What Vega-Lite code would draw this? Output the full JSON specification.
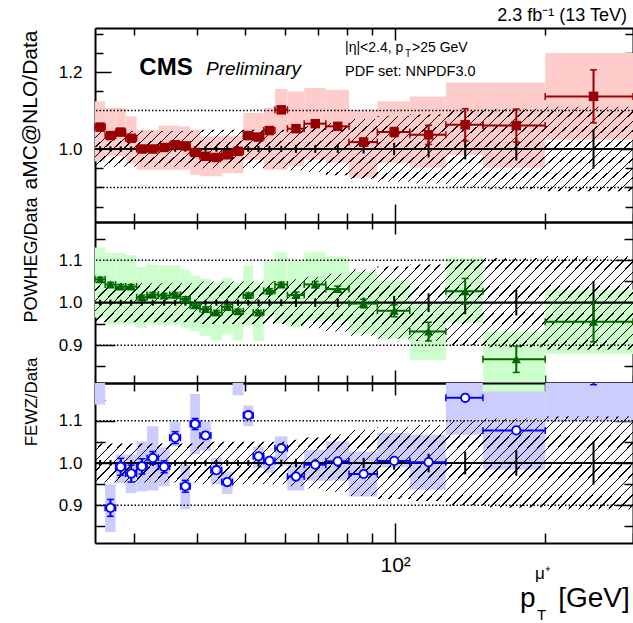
{
"$schema":"https://vega.github.io/schema/vega-lite/v6.json",
"autosize":{"type":"none"},
"padding":{"left":95,"top":28,"right":538,"bottom":595},
"background":"white",
"spacing":0,
"bounds":"flush",
"config":{
 "view":{"stroke":null},
 "axis":{"domain":true,"domainColor":"black","domainWidth":2,"tickColor":"black","tickWidth":1.5,"labelFont":"Liberation Sans","labelFontSize":17,"labelColor":"black","titleFont":"Liberation Sans","titleFontWeight":"normal","titleColor":"black","grid":false,"zindex":1,"labelFlush":false,"labelOverlap":false,"labelBound":false},
 "text":{"font":"Liberation Sans","color":"black"},
 "area":{"stroke":null,"fill":{"gradient":"linear","x1":0,"y1":0,"x2":1.1355,"y2":0.19,"stops":[
{"offset":0.0040,"color":"transparent"},{"offset":0.0040,"color":"black"},{"offset":0.0062,"color":"black"},{"offset":0.0062,"color":"transparent"},
{"offset":0.0199,"color":"transparent"},{"offset":0.0199,"color":"black"},{"offset":0.0221,"color":"black"},{"offset":0.0221,"color":"transparent"},
{"offset":0.0358,"color":"transparent"},{"offset":0.0358,"color":"black"},{"offset":0.0380,"color":"black"},{"offset":0.0380,"color":"transparent"},
{"offset":0.0518,"color":"transparent"},{"offset":0.0518,"color":"black"},{"offset":0.0540,"color":"black"},{"offset":0.0540,"color":"transparent"},
{"offset":0.0677,"color":"transparent"},{"offset":0.0677,"color":"black"},{"offset":0.0699,"color":"black"},{"offset":0.0699,"color":"transparent"},
{"offset":0.0836,"color":"transparent"},{"offset":0.0836,"color":"black"},{"offset":0.0858,"color":"black"},{"offset":0.0858,"color":"transparent"},
{"offset":0.0995,"color":"transparent"},{"offset":0.0995,"color":"black"},{"offset":0.1017,"color":"black"},{"offset":0.1017,"color":"transparent"},
{"offset":0.1155,"color":"transparent"},{"offset":0.1155,"color":"black"},{"offset":0.1177,"color":"black"},{"offset":0.1177,"color":"transparent"},
{"offset":0.1314,"color":"transparent"},{"offset":0.1314,"color":"black"},{"offset":0.1336,"color":"black"},{"offset":0.1336,"color":"transparent"},
{"offset":0.1473,"color":"transparent"},{"offset":0.1473,"color":"black"},{"offset":0.1495,"color":"black"},{"offset":0.1495,"color":"transparent"},
{"offset":0.1632,"color":"transparent"},{"offset":0.1632,"color":"black"},{"offset":0.1654,"color":"black"},{"offset":0.1654,"color":"transparent"},
{"offset":0.1792,"color":"transparent"},{"offset":0.1792,"color":"black"},{"offset":0.1814,"color":"black"},{"offset":0.1814,"color":"transparent"},
{"offset":0.1951,"color":"transparent"},{"offset":0.1951,"color":"black"},{"offset":0.1973,"color":"black"},{"offset":0.1973,"color":"transparent"},
{"offset":0.2110,"color":"transparent"},{"offset":0.2110,"color":"black"},{"offset":0.2132,"color":"black"},{"offset":0.2132,"color":"transparent"},
{"offset":0.2269,"color":"transparent"},{"offset":0.2269,"color":"black"},{"offset":0.2291,"color":"black"},{"offset":0.2291,"color":"transparent"},
{"offset":0.2429,"color":"transparent"},{"offset":0.2429,"color":"black"},{"offset":0.2451,"color":"black"},{"offset":0.2451,"color":"transparent"},
{"offset":0.2588,"color":"transparent"},{"offset":0.2588,"color":"black"},{"offset":0.2610,"color":"black"},{"offset":0.2610,"color":"transparent"},
{"offset":0.2747,"color":"transparent"},{"offset":0.2747,"color":"black"},{"offset":0.2769,"color":"black"},{"offset":0.2769,"color":"transparent"},
{"offset":0.2906,"color":"transparent"},{"offset":0.2906,"color":"black"},{"offset":0.2928,"color":"black"},{"offset":0.2928,"color":"transparent"},
{"offset":0.3066,"color":"transparent"},{"offset":0.3066,"color":"black"},{"offset":0.3088,"color":"black"},{"offset":0.3088,"color":"transparent"},
{"offset":0.3225,"color":"transparent"},{"offset":0.3225,"color":"black"},{"offset":0.3247,"color":"black"},{"offset":0.3247,"color":"transparent"},
{"offset":0.3384,"color":"transparent"},{"offset":0.3384,"color":"black"},{"offset":0.3406,"color":"black"},{"offset":0.3406,"color":"transparent"},
{"offset":0.3543,"color":"transparent"},{"offset":0.3543,"color":"black"},{"offset":0.3565,"color":"black"},{"offset":0.3565,"color":"transparent"},
{"offset":0.3703,"color":"transparent"},{"offset":0.3703,"color":"black"},{"offset":0.3725,"color":"black"},{"offset":0.3725,"color":"transparent"},
{"offset":0.3862,"color":"transparent"},{"offset":0.3862,"color":"black"},{"offset":0.3884,"color":"black"},{"offset":0.3884,"color":"transparent"},
{"offset":0.4021,"color":"transparent"},{"offset":0.4021,"color":"black"},{"offset":0.4043,"color":"black"},{"offset":0.4043,"color":"transparent"},
{"offset":0.4180,"color":"transparent"},{"offset":0.4180,"color":"black"},{"offset":0.4202,"color":"black"},{"offset":0.4202,"color":"transparent"},
{"offset":0.4339,"color":"transparent"},{"offset":0.4339,"color":"black"},{"offset":0.4361,"color":"black"},{"offset":0.4361,"color":"transparent"},
{"offset":0.4499,"color":"transparent"},{"offset":0.4499,"color":"black"},{"offset":0.4521,"color":"black"},{"offset":0.4521,"color":"transparent"},
{"offset":0.4658,"color":"transparent"},{"offset":0.4658,"color":"black"},{"offset":0.4680,"color":"black"},{"offset":0.4680,"color":"transparent"},
{"offset":0.4817,"color":"transparent"},{"offset":0.4817,"color":"black"},{"offset":0.4839,"color":"black"},{"offset":0.4839,"color":"transparent"},
{"offset":0.4976,"color":"transparent"},{"offset":0.4976,"color":"black"},{"offset":0.4998,"color":"black"},{"offset":0.4998,"color":"transparent"},
{"offset":0.5136,"color":"transparent"},{"offset":0.5136,"color":"black"},{"offset":0.5158,"color":"black"},{"offset":0.5158,"color":"transparent"},
{"offset":0.5295,"color":"transparent"},{"offset":0.5295,"color":"black"},{"offset":0.5317,"color":"black"},{"offset":0.5317,"color":"transparent"},
{"offset":0.5454,"color":"transparent"},{"offset":0.5454,"color":"black"},{"offset":0.5476,"color":"black"},{"offset":0.5476,"color":"transparent"},
{"offset":0.5613,"color":"transparent"},{"offset":0.5613,"color":"black"},{"offset":0.5635,"color":"black"},{"offset":0.5635,"color":"transparent"},
{"offset":0.5773,"color":"transparent"},{"offset":0.5773,"color":"black"},{"offset":0.5795,"color":"black"},{"offset":0.5795,"color":"transparent"},
{"offset":0.5932,"color":"transparent"},{"offset":0.5932,"color":"black"},{"offset":0.5954,"color":"black"},{"offset":0.5954,"color":"transparent"},
{"offset":0.6091,"color":"transparent"},{"offset":0.6091,"color":"black"},{"offset":0.6113,"color":"black"},{"offset":0.6113,"color":"transparent"},
{"offset":0.6250,"color":"transparent"},{"offset":0.6250,"color":"black"},{"offset":0.6272,"color":"black"},{"offset":0.6272,"color":"transparent"},
{"offset":0.6410,"color":"transparent"},{"offset":0.6410,"color":"black"},{"offset":0.6432,"color":"black"},{"offset":0.6432,"color":"transparent"},
{"offset":0.6569,"color":"transparent"},{"offset":0.6569,"color":"black"},{"offset":0.6591,"color":"black"},{"offset":0.6591,"color":"transparent"},
{"offset":0.6728,"color":"transparent"},{"offset":0.6728,"color":"black"},{"offset":0.6750,"color":"black"},{"offset":0.6750,"color":"transparent"},
{"offset":0.6887,"color":"transparent"},{"offset":0.6887,"color":"black"},{"offset":0.6909,"color":"black"},{"offset":0.6909,"color":"transparent"},
{"offset":0.7047,"color":"transparent"},{"offset":0.7047,"color":"black"},{"offset":0.7069,"color":"black"},{"offset":0.7069,"color":"transparent"},
{"offset":0.7206,"color":"transparent"},{"offset":0.7206,"color":"black"},{"offset":0.7228,"color":"black"},{"offset":0.7228,"color":"transparent"},
{"offset":0.7365,"color":"transparent"},{"offset":0.7365,"color":"black"},{"offset":0.7387,"color":"black"},{"offset":0.7387,"color":"transparent"},
{"offset":0.7524,"color":"transparent"},{"offset":0.7524,"color":"black"},{"offset":0.7546,"color":"black"},{"offset":0.7546,"color":"transparent"},
{"offset":0.7684,"color":"transparent"},{"offset":0.7684,"color":"black"},{"offset":0.7706,"color":"black"},{"offset":0.7706,"color":"transparent"},
{"offset":0.7843,"color":"transparent"},{"offset":0.7843,"color":"black"},{"offset":0.7865,"color":"black"},{"offset":0.7865,"color":"transparent"},
{"offset":0.8002,"color":"transparent"},{"offset":0.8002,"color":"black"},{"offset":0.8024,"color":"black"},{"offset":0.8024,"color":"transparent"},
{"offset":0.8161,"color":"transparent"},{"offset":0.8161,"color":"black"},{"offset":0.8183,"color":"black"},{"offset":0.8183,"color":"transparent"},
{"offset":0.8320,"color":"transparent"},{"offset":0.8320,"color":"black"},{"offset":0.8342,"color":"black"},{"offset":0.8342,"color":"transparent"},
{"offset":0.8480,"color":"transparent"},{"offset":0.8480,"color":"black"},{"offset":0.8502,"color":"black"},{"offset":0.8502,"color":"transparent"},
{"offset":0.8639,"color":"transparent"},{"offset":0.8639,"color":"black"},{"offset":0.8661,"color":"black"},{"offset":0.8661,"color":"transparent"},
{"offset":0.8798,"color":"transparent"},{"offset":0.8798,"color":"black"},{"offset":0.8820,"color":"black"},{"offset":0.8820,"color":"transparent"},
{"offset":0.8957,"color":"transparent"},{"offset":0.8957,"color":"black"},{"offset":0.8979,"color":"black"},{"offset":0.8979,"color":"transparent"},
{"offset":0.9117,"color":"transparent"},{"offset":0.9117,"color":"black"},{"offset":0.9139,"color":"black"},{"offset":0.9139,"color":"transparent"},
{"offset":0.9276,"color":"transparent"},{"offset":0.9276,"color":"black"},{"offset":0.9298,"color":"black"},{"offset":0.9298,"color":"transparent"},
{"offset":0.9435,"color":"transparent"},{"offset":0.9435,"color":"black"},{"offset":0.9457,"color":"black"},{"offset":0.9457,"color":"transparent"},
{"offset":0.9594,"color":"transparent"},{"offset":0.9594,"color":"black"},{"offset":0.9616,"color":"black"},{"offset":0.9616,"color":"transparent"},
{"offset":0.9754,"color":"transparent"},{"offset":0.9754,"color":"black"},{"offset":0.9776,"color":"black"},{"offset":0.9776,"color":"transparent"},
{"offset":0.9913,"color":"transparent"},{"offset":0.9913,"color":"black"},{"offset":0.9935,"color":"black"},{"offset":0.9935,"color":"transparent"}
 ]}}
},
"datasets":{
 "bins":[
{"lo":25,"hi":26.2,"x":25.6,"s1":0.993,"s2":1.007,"a":1.057,"al":1.052,"ah":1.062,"abl":0.968,"abh":1.124,"p":1.055,"pl":1.05,"ph":1.06,"pbl":0.965,"pbh":1.13,"f":1.25,"fl":1.23,"fh":1.27,"fbl":1.138,"fbh":1.25},
{"lo":26.2,"hi":27.5,"x":26.85,"s1":0.993,"s2":1.007,"a":1.035,"al":1.03,"ah":1.04,"abl":0.981,"abh":1.107,"p":1.043,"pl":1.038,"ph":1.048,"pbl":0.949,"pbh":1.117,"f":0.894,"fl":0.874,"fh":0.914,"fbl":0.837,"fbh":0.949},
{"lo":27.5,"hi":28.8,"x":28.15,"s1":0.993,"s2":1.007,"a":1.044,"al":1.039,"ah":1.049,"abl":0.981,"abh":1.107,"p":1.038,"pl":1.033,"ph":1.043,"pbl":0.949,"pbh":1.117,"f":0.991,"fl":0.971,"fh":1.011,"fbl":0.953,"fbh":1.02},
{"lo":28.8,"hi":30.3,"x":29.55,"s1":0.993,"s2":1.007,"a":1.028,"al":1.023,"ah":1.033,"abl":0.962,"abh":1.085,"p":1.038,"pl":1.033,"ph":1.043,"pbl":0.949,"pbh":1.112,"f":0.975,"fl":0.955,"fh":0.995,"fbl":0.929,"fbh":1.02},
{"lo":30.3,"hi":31.8,"x":31.05,"s1":0.993,"s2":1.007,"a":1.0,"al":0.995,"ah":1.005,"abl":0.946,"abh":1.05,"p":1.013,"pl":1.008,"ph":1.018,"pbl":0.941,"pbh":1.084,"f":0.992,"fl":0.974,"fh":1.01,"fbl":0.933,"fbh":1.051},
{"lo":31.8,"hi":33.5,"x":32.65,"s1":0.993,"s2":1.007,"a":1.0,"al":0.995,"ah":1.005,"abl":0.946,"abh":1.05,"p":1.019,"pl":1.014,"ph":1.024,"pbl":0.949,"pbh":1.09,"f":1.012,"fl":0.997,"fh":1.027,"fbl":0.935,"fbh":1.087},
{"lo":33.5,"hi":35.3,"x":34.4,"s1":0.993,"s2":1.007,"a":1.004,"al":0.999,"ah":1.009,"abl":0.946,"abh":1.061,"p":1.017,"pl":1.012,"ph":1.022,"pbl":0.947,"pbh":1.088,"f":0.991,"fl":0.977,"fh":1.005,"fbl":0.945,"fbh":1.037},
{"lo":35.3,"hi":37.1,"x":36.2,"s1":0.993,"s2":1.007,"a":1.011,"al":1.006,"ah":1.016,"abl":0.946,"abh":1.061,"p":1.019,"pl":1.014,"ph":1.024,"pbl":0.947,"pbh":1.088,"f":1.06,"fl":1.046,"fh":1.074,"fbl":1.039,"fbh":1.098},
{"lo":37.1,"hi":38.8,"x":37.95,"s1":0.993,"s2":1.007,"a":1.008,"al":1.003,"ah":1.013,"abl":0.946,"abh":1.059,"p":1.009,"pl":1.004,"ph":1.014,"pbl":0.941,"pbh":1.078,"f":0.945,"fl":0.931,"fh":0.959,"fbl":0.891,"fbh":0.996},
{"lo":38.8,"hi":40.6,"x":39.7,"s1":0.993,"s2":1.007,"a":0.991,"al":0.986,"ah":0.996,"abl":0.933,"abh":1.05,"p":0.994,"pl":0.989,"ph":0.999,"pbl":0.933,"pbh":1.064,"f":1.092,"fl":1.079,"fh":1.105,"fbl":1.021,"fbh":1.163},
{"lo":40.6,"hi":42.7,"x":41.65,"s1":0.993,"s2":1.007,"a":0.981,"al":0.976,"ah":0.986,"abl":0.929,"abh":1.033,"p":0.985,"pl":0.98,"ph":0.99,"pbl":0.922,"pbh":1.056,"f":1.065,"fl":1.057,"fh":1.073,"fbl":1.029,"fbh":1.098},
{"lo":42.7,"hi":44.9,"x":43.8,"s1":0.993,"s2":1.007,"a":0.978,"al":0.973,"ah":0.983,"abl":0.929,"abh":1.033,"p":0.977,"pl":0.972,"ph":0.982,"pbl":0.911,"pbh":1.047,"f":0.983,"fl":0.975,"fh":0.991,"fbl":0.95,"fbh":1.012},
{"lo":44.9,"hi":47.2,"x":46.05,"s1":0.993,"s2":1.007,"a":0.985,"al":0.98,"ah":0.99,"abl":0.937,"abh":1.035,"p":0.99,"pl":0.985,"ph":0.995,"pbl":0.926,"pbh":1.059,"f":0.955,"fl":0.947,"fh":0.963,"fbl":0.927,"fbh":0.98},
{"lo":47.2,"hi":49.6,"x":48.4,"s1":0.993,"s2":1.007,"a":0.994,"al":0.989,"ah":0.999,"abl":0.937,"abh":1.035,"p":0.98,"pl":0.975,"ph":0.985,"pbl":0.911,"pbh":1.047,"f":1.25,"fl":1.23,"fh":1.27,"fbl":1.16,"fbh":1.25},
{"lo":49.6,"hi":51.9,"x":50.75,"s1":0.993,"s2":1.007,"a":1.035,"al":1.03,"ah":1.04,"abl":0.972,"abh":1.094,"p":1.018,"pl":1.013,"ph":1.023,"pbl":0.947,"pbh":1.088,"f":1.113,"fl":1.106,"fh":1.12,"fbl":1.087,"fbh":1.136},
{"lo":51.9,"hi":54.5,"x":53.2,"s1":0.992,"s2":1.008,"a":1.031,"al":1.026,"ah":1.036,"abl":0.972,"abh":1.094,"p":0.977,"pl":0.972,"ph":0.982,"pbl":0.91,"pbh":1.047,"f":1.016,"fl":1.01,"fh":1.022,"fbl":0.988,"fbh":1.039},
{"lo":54.5,"hi":57.4,"x":55.95,"s1":0.992,"s2":1.008,"a":1.048,"al":1.043,"ah":1.053,"abl":0.946,"abh":1.107,"p":1.028,"pl":1.023,"ph":1.033,"pbl":0.969,"pbh":1.098,"f":1.005,"fl":1.0,"fh":1.01,"fbl":0.976,"fbh":1.016},
{"lo":57.4,"hi":60.8,"x":59.1,"s1":0.992,"s2":1.008,"a":1.102,"al":1.097,"ah":1.107,"abl":0.946,"abh":1.156,"p":1.043,"pl":1.038,"ph":1.048,"pbl":0.953,"pbh":1.119,"f":1.035,"fl":1.03,"fh":1.04,"fbl":0.994,"fbh":1.063},
{"lo":60.8,"hi":65.7,"x":63.25,"s1":0.99,"s2":1.01,"a":1.053,"al":1.046,"ah":1.06,"abl":0.955,"abh":1.15,"p":1.018,"pl":1.011,"ph":1.025,"pbl":0.943,"pbh":1.098,"f":0.968,"fl":0.963,"fh":0.973,"fbl":0.935,"fbh":0.998},
{"lo":65.7,"hi":72.6,"x":69.15,"s1":0.99,"s2":1.01,"a":1.066,"al":1.059,"ah":1.073,"abl":0.972,"abh":1.159,"p":1.043,"pl":1.036,"ph":1.05,"pbl":0.957,"pbh":1.119,"f":0.996,"fl":0.991,"fh":1.001,"fbl":0.958,"fbh":1.031},
{"lo":72.6,"hi":80.8,"x":76.7,"s1":0.99,"s2":1.01,"a":1.059,"al":1.052,"ah":1.066,"abl":0.964,"abh":1.154,"p":1.032,"pl":1.025,"ph":1.039,"pbl":0.957,"pbh":1.109,"f":1.004,"fl":0.999,"fh":1.009,"fbl":0.958,"fbh":1.051},
{"lo":80.8,"hi":92.1,"x":86.45,"s1":0.988,"s2":1.012,"a":1.018,"al":1.008,"ah":1.028,"abl":0.925,"abh":1.102,"p":0.998,"pl":0.988,"ph":1.008,"pbl":0.927,"pbh":1.074,"f":0.974,"fl":0.969,"fh":0.979,"fbl":0.921,"fbh":1.027},
{"lo":92.1,"hi":107,"x":99.55,"s1":0.984,"s2":1.016,"a":1.044,"al":1.032,"ah":1.056,"abl":0.964,"abh":1.124,"p":0.981,"pl":0.967,"ph":0.995,"pbl":0.916,"pbh":1.053,"f":1.005,"fl":1.0,"fh":1.01,"fbl":0.99,"fbh":1.071},
{"lo":107,"hi":126.4,"x":116.7,"s1":0.978,"s2":1.022,"a":1.037,"al":1.012,"ah":1.062,"abl":0.951,"abh":1.137,"p":0.932,"pl":0.91,"ph":0.954,"pbl":0.865,"pbh":1.0,"f":1.002,"fl":0.997,"fh":1.007,"fbl":0.937,"fbh":1.067},
{"lo":126.4,"hi":150,"x":138.2,"s1":0.973,"s2":1.027,"a":1.063,"al":1.021,"ah":1.105,"abl":0.985,"abh":1.173,"p":1.027,"pl":0.997,"ph":1.057,"pbl":0.953,"pbh":1.106,"f":1.154,"fl":1.148,"fh":1.16,"fbl":1.067,"fbh":1.25},
{"lo":150,"hi":200,"x":175,"s1":0.97,"s2":1.03,"a":1.061,"al":1.018,"ah":1.104,"abl":0.951,"abh":1.173,"p":0.867,"pl":0.836,"ph":0.898,"pbl":0.79,"pbh":0.932,"f":1.077,"fl":1.07,"fh":1.084,"fbl":0.984,"fbh":1.169},
{"lo":200,"hi":300,"x":250,"s1":0.949,"s2":1.051,"a":1.137,"al":1.068,"ah":1.206,"abl":1.024,"abh":1.25,"p":0.955,"pl":0.908,"ph":1.002,"pbl":0.879,"pbh":1.031,"f":1.23,"fl":1.185,"fh":1.275,"fbl":1.098,"fbh":1.25}
 ],
 "sys":[
{"x":25,"lo":0.954,"hi":1.046},{"x":26.2,"lo":0.954,"hi":1.046},{"x":27.5,"lo":0.954,"hi":1.046},{"x":28.8,"lo":0.954,"hi":1.046},{"x":30.3,"lo":0.954,"hi":1.046},{"x":31.8,"lo":0.954,"hi":1.046},{"x":33.5,"lo":0.954,"hi":1.046},{"x":35.3,"lo":0.954,"hi":1.046},{"x":37.1,"lo":0.954,"hi":1.046},{"x":38.8,"lo":0.954,"hi":1.046},
{"x":40.6,"lo":0.95,"hi":1.05},{"x":42.7,"lo":0.95,"hi":1.05},{"x":44.9,"lo":0.95,"hi":1.05},{"x":47.2,"lo":0.95,"hi":1.05},{"x":49.6,"lo":0.95,"hi":1.05},{"x":51.9,"lo":0.95,"hi":1.05},{"x":54.5,"lo":0.95,"hi":1.05},{"x":57.4,"lo":0.95,"hi":1.05},
{"x":60.8,"lo":0.945,"hi":1.055},{"x":65.7,"lo":0.94,"hi":1.06},{"x":72.6,"lo":0.932,"hi":1.068},{"x":80.8,"lo":0.922,"hi":1.078},{"x":92.1,"lo":0.915,"hi":1.085},{"x":107,"lo":0.91,"hi":1.09},{"x":126.4,"lo":0.9,"hi":1.1},{"x":150,"lo":0.895,"hi":1.105},{"x":200,"lo":0.89,"hi":1.11},{"x":300,"lo":0.89,"hi":1.11}
 ]
},
"vconcat":[
{
 "width":538,"height":194,
 "data":{"name":"bins"},
 "resolve":{"axis":{"x":"independent","y":"independent"}},
 "layer":[
  {"mark":{"type":"rect","fill":"#ffcccc"},
   "encoding":{
    "x":{"field":"lo","type":"quantitative","scale":{"type":"log","domain":[25,300],"nice":false},"axis":{"orient":"bottom","values":[30,40,50,60,70,80,90,100,200,300],"labels":false,"title":null,"tickSize":{"condition":{"test":"datum.value==100","value":-18},"value":-9}}},
    "x2":{"field":"hi"},
    "y":{"field":"abl","type":"quantitative","scale":{"domain":[0.81,1.315],"nice":false,"zero":false},"axis":{"orient":"left","values":[0.85,0.9,0.95,1,1.05,1.1,1.15,1.2,1.25,1.3],"labelExpr":"abs(datum.value*5-round(datum.value*5))<0.01 ? format(datum.value,'.1f') : ''","tickSize":{"condition":{"test":"abs(datum.value*5-round(datum.value*5))<0.01","value":-16},"value":-8},"labelPadding":29,"title":"aMC@NLO/Data","titleFontSize":21,"titleAnchor":"end","titleAngle":-90,"titleAlign":"right","titleBaseline":"alphabetic","titleX":-59,"titleY":2}},
    "y2":{"field":"abh"}}},
  {"data":{"name":"sys"},"mark":{"type":"area","interpolate":"step-after"},
   "encoding":{
    "x":{"field":"x","type":"quantitative","scale":{"type":"log","domain":[25,300],"nice":false},"axis":{"orient":"top","values":[30,40,50,60,70,80,90,100,200,300],"labels":false,"title":null,"tickSize":{"condition":{"test":"datum.value==100","value":-12},"value":-7}}},
    "y":{"field":"lo","type":"quantitative","scale":{"domain":[0.81,1.315],"nice":false,"zero":false},"axis":{"orient":"right","values":[0.85,0.9,0.95,1,1.05,1.1,1.15,1.2,1.25,1.3],"labels":false,"title":null,"tickSize":{"condition":{"test":"abs(datum.value*5-round(datum.value*5))<0.01","value":-14},"value":-8}}},
    "y2":{"field":"hi"}}},
  {"data":{"values":[{"v":1.1},{"v":0.9}]},"mark":{"type":"rule","strokeDash":[1.5,2],"strokeWidth":1.5,"color":"black"},
   "encoding":{"y":{"field":"v","type":"quantitative","scale":{"domain":[0.81,1.315],"nice":false,"zero":false},"axis":null}}},
  {"data":{"values":[{"v":1}]},"mark":{"type":"rule","strokeWidth":2.2,"color":"black"},
   "encoding":{"y":{"field":"v","type":"quantitative","scale":{"domain":[0.81,1.315],"nice":false,"zero":false},"axis":null}}},
  {"mark":{"type":"rule","strokeWidth":2,"color":"black"},
   "encoding":{"x":{"field":"x","type":"quantitative","scale":{"type":"log","domain":[25,300],"nice":false},"axis":null},
    "y":{"field":"s1","type":"quantitative","scale":{"domain":[0.81,1.315],"nice":false,"zero":false},"axis":null},"y2":{"field":"s2"}}},
  {"mark":{"type":"rule","strokeWidth":2,"color":"#990000"},
   "encoding":{"x":{"field":"lo","type":"quantitative","scale":{"type":"log","domain":[25,300],"nice":false},"axis":null},"x2":{"field":"hi"},
    "y":{"field":"a","type":"quantitative","scale":{"domain":[0.81,1.315],"nice":false,"zero":false},"axis":null}}},
  {"mark":{"type":"rule","strokeWidth":2,"color":"#990000"},
   "encoding":{"x":{"field":"x","type":"quantitative","scale":{"type":"log","domain":[25,300],"nice":false},"axis":null},
    "y":{"field":"al","type":"quantitative","scale":{"domain":[0.81,1.315],"nice":false,"zero":false},"axis":null},"y2":{"field":"ah"}}},
  {"transform":[{"fold":["al","ah"],"as":["k","yv"]}],"mark":{"type":"tick","orient":"horizontal","size":7,"thickness":1.5,"color":"#990000","opacity":1},
   "encoding":{"x":{"field":"x","type":"quantitative","scale":{"type":"log","domain":[25,300],"nice":false},"axis":null},
    "y":{"field":"yv","type":"quantitative","scale":{"domain":[0.81,1.315],"nice":false,"zero":false},"axis":null}}},
  {"transform":[{"fold":["lo","hi"],"as":["k","xv"]}],"mark":{"type":"tick","orient":"vertical","size":7,"thickness":1.5,"color":"#990000","opacity":1},
   "encoding":{"x":{"field":"xv","type":"quantitative","scale":{"type":"log","domain":[25,300],"nice":false},"axis":null},
    "y":{"field":"a","type":"quantitative","scale":{"domain":[0.81,1.315],"nice":false,"zero":false},"axis":null}}},
  {"mark":{"type":"point","shape":"square","filled":true,"size":90,"color":"#990000","opacity":1},
   "encoding":{"x":{"field":"x","type":"quantitative","scale":{"type":"log","domain":[25,300],"nice":false},"axis":null},
    "y":{"field":"a","type":"quantitative","scale":{"domain":[0.81,1.315],"nice":false,"zero":false},"axis":null}}},
  {"data":{"values":[{}]},"mark":{"type":"text","text":"2.3 fb⁻¹ (13 TeV)","fontSize":18,"align":"right","baseline":"alphabetic"},
   "encoding":{"x":{"datum":291.8,"type":"quantitative","scale":{"type":"log","domain":[25,300],"nice":false},"axis":null},"y":{"datum":1.334,"type":"quantitative","scale":{"domain":[0.81,1.315],"nice":false,"zero":false},"axis":null}}},
  {"data":{"values":[{}]},"mark":{"type":"text","text":"CMS","fontSize":24,"fontWeight":"bold","align":"left","baseline":"alphabetic"},
   "encoding":{"x":{"datum":30.68,"type":"quantitative","scale":{"type":"log","domain":[25,300],"nice":false},"axis":null},"y":{"datum":1.1935,"type":"quantitative","scale":{"domain":[0.81,1.315],"nice":false,"zero":false},"axis":null}}},
  {"data":{"values":[{}]},"mark":{"type":"text","text":"Preliminary","fontSize":19,"fontStyle":"italic","align":"left","baseline":"alphabetic"},
   "encoding":{"x":{"datum":41.75,"type":"quantitative","scale":{"type":"log","domain":[25,300],"nice":false},"axis":null},"y":{"datum":1.1935,"type":"quantitative","scale":{"domain":[0.81,1.315],"nice":false,"zero":false},"axis":null}}},
  {"data":{"values":[{}]},"mark":{"type":"text","text":"|η|<2.4, p","fontSize":14,"align":"left","baseline":"alphabetic"},
   "encoding":{"x":{"datum":79.35,"type":"quantitative","scale":{"type":"log","domain":[25,300],"nice":false},"axis":null},"y":{"datum":1.2534,"type":"quantitative","scale":{"domain":[0.81,1.315],"nice":false,"zero":false},"axis":null}}},
  {"data":{"values":[{}]},"mark":{"type":"text","text":"T","fontSize":10,"align":"left","baseline":"alphabetic"},
   "encoding":{"x":{"datum":104.7,"type":"quantitative","scale":{"type":"log","domain":[25,300],"nice":false},"axis":null},"y":{"datum":1.2404,"type":"quantitative","scale":{"domain":[0.81,1.315],"nice":false,"zero":false},"axis":null}}},
  {"data":{"values":[{}]},"mark":{"type":"text","text":">25 GeV","fontSize":14,"align":"left","baseline":"alphabetic"},
   "encoding":{"x":{"datum":108.1,"type":"quantitative","scale":{"type":"log","domain":[25,300],"nice":false},"axis":null},"y":{"datum":1.2534,"type":"quantitative","scale":{"domain":[0.81,1.315],"nice":false,"zero":false},"axis":null}}},
  {"data":{"values":[{}]},"mark":{"type":"text","text":"PDF set: NNPDF3.0","fontSize":14.5,"align":"left","baseline":"alphabetic"},
   "encoding":{"x":{"datum":79.35,"type":"quantitative","scale":{"type":"log","domain":[25,300],"nice":false},"axis":null},"y":{"datum":1.1909,"type":"quantitative","scale":{"domain":[0.81,1.315],"nice":false,"zero":false},"axis":null}}}
 ]
},
{
 "width":538,"height":161,
 "data":{"name":"bins"},
 "resolve":{"axis":{"x":"independent","y":"independent"}},
 "layer":[
  {"mark":{"type":"rect","fill":"#ccffcc"},
   "encoding":{
    "x":{"field":"lo","type":"quantitative","scale":{"type":"log","domain":[25,300],"nice":false},"axis":{"orient":"bottom","values":[30,40,50,60,70,80,90,100,200,300],"labels":false,"title":null,"tickSize":{"condition":{"test":"datum.value==100","value":-13},"value":-8}}},
    "x2":{"field":"hi"},
    "y":{"field":"pbl","type":"quantitative","scale":{"domain":[0.811,1.19],"nice":false,"zero":false},"axis":{"orient":"left","values":[0.85,0.9,0.95,1,1.05,1.1,1.15],"labelExpr":"abs(datum.value*10-round(datum.value*10))<0.01 ? format(datum.value,'.1f') : ''","tickSize":{"condition":{"test":"abs(datum.value*10-round(datum.value*10))<0.01","value":-20},"value":-10},"labelPadding":33,"title":"POWHEG/Data","titleFontSize":18,"titleAnchor":"end","titleAngle":-90,"titleAlign":"right","titleBaseline":"alphabetic","titleX":-59,"titleY":-25}},
    "y2":{"field":"pbh"}}},
  {"data":{"name":"sys"},"mark":{"type":"area","interpolate":"step-after"},
   "encoding":{
    "x":{"field":"x","type":"quantitative","scale":{"type":"log","domain":[25,300],"nice":false},"axis":{"orient":"top","values":[30,40,50,60,70,80,90,100,200,300],"labels":false,"title":null,"tickSize":{"condition":{"test":"datum.value==100","value":-12},"value":-7}}},
    "y":{"field":"lo","type":"quantitative","scale":{"domain":[0.811,1.19],"nice":false,"zero":false},"axis":{"orient":"right","values":[0.85,0.9,0.95,1,1.05,1.1,1.15],"labels":false,"title":null,"tickSize":{"condition":{"test":"abs(datum.value*10-round(datum.value*10))<0.01","value":-18},"value":-9}}},
    "y2":{"field":"hi"}}},
  {"data":{"values":[{"v":1.1},{"v":0.9}]},"mark":{"type":"rule","strokeDash":[1.5,2],"strokeWidth":1.5,"color":"black"},
   "encoding":{"y":{"field":"v","type":"quantitative","scale":{"domain":[0.811,1.19],"nice":false,"zero":false},"axis":null}}},
  {"data":{"values":[{"v":1}]},"mark":{"type":"rule","strokeWidth":2.2,"color":"black"},
   "encoding":{"y":{"field":"v","type":"quantitative","scale":{"domain":[0.811,1.19],"nice":false,"zero":false},"axis":null}}},
  {"mark":{"type":"rule","strokeWidth":2,"color":"black"},
   "encoding":{"x":{"field":"x","type":"quantitative","scale":{"type":"log","domain":[25,300],"nice":false},"axis":null},
    "y":{"field":"s1","type":"quantitative","scale":{"domain":[0.811,1.19],"nice":false,"zero":false},"axis":null},"y2":{"field":"s2"}}},
  {"mark":{"type":"rule","strokeWidth":2,"color":"#006600"},
   "encoding":{"x":{"field":"lo","type":"quantitative","scale":{"type":"log","domain":[25,300],"nice":false},"axis":null},"x2":{"field":"hi"},
    "y":{"field":"p","type":"quantitative","scale":{"domain":[0.811,1.19],"nice":false,"zero":false},"axis":null}}},
  {"mark":{"type":"rule","strokeWidth":2,"color":"#006600"},
   "encoding":{"x":{"field":"x","type":"quantitative","scale":{"type":"log","domain":[25,300],"nice":false},"axis":null},
    "y":{"field":"pl","type":"quantitative","scale":{"domain":[0.811,1.19],"nice":false,"zero":false},"axis":null},"y2":{"field":"ph"}}},
  {"transform":[{"fold":["pl","ph"],"as":["k","yv"]}],"mark":{"type":"tick","orient":"horizontal","size":7,"thickness":1.5,"color":"#006600","opacity":1},
   "encoding":{"x":{"field":"x","type":"quantitative","scale":{"type":"log","domain":[25,300],"nice":false},"axis":null},
    "y":{"field":"yv","type":"quantitative","scale":{"domain":[0.811,1.19],"nice":false,"zero":false},"axis":null}}},
  {"transform":[{"fold":["lo","hi"],"as":["k","xv"]}],"mark":{"type":"tick","orient":"vertical","size":7,"thickness":1.5,"color":"#006600","opacity":1},
   "encoding":{"x":{"field":"xv","type":"quantitative","scale":{"type":"log","domain":[25,300],"nice":false},"axis":null},
    "y":{"field":"p","type":"quantitative","scale":{"domain":[0.811,1.19],"nice":false,"zero":false},"axis":null}}},
  {"mark":{"type":"point","shape":"triangle-up","filled":true,"size":85,"color":"#006600","opacity":1},
   "encoding":{"x":{"field":"x","type":"quantitative","scale":{"type":"log","domain":[25,300],"nice":false},"axis":null},
    "y":{"field":"p","type":"quantitative","scale":{"domain":[0.811,1.19],"nice":false,"zero":false},"axis":null}}}
 ]
},
{
 "width":538,"height":160,
 "data":{"name":"bins"},
 "resolve":{"axis":{"x":"independent","y":"independent"}},
 "layer":[
  {"mark":{"type":"rect","fill":"#ccccff","clip":true},
   "encoding":{
    "x":{"field":"lo","type":"quantitative","scale":{"type":"log","domain":[25,300],"nice":false},"axis":{"orient":"bottom","values":[30,40,50,60,70,80,90,100,200,300],"labelExpr":"datum.value==100 ? '10²' : ''","labelFontSize":21,"labelPadding":31,"title":null,"tickSize":{"condition":{"test":"datum.value==100","value":-20},"value":-10}}},
    "x2":{"field":"hi"},
    "y":{"field":"fbl","type":"quantitative","scale":{"domain":[0.811,1.189],"nice":false,"zero":false},"axis":{"orient":"left","values":[0.85,0.9,0.95,1,1.05,1.1,1.15],"labelExpr":"abs(datum.value*10-round(datum.value*10))<0.01 ? format(datum.value,'.1f') : ''","tickSize":{"condition":{"test":"abs(datum.value*10-round(datum.value*10))<0.01","value":-20},"value":-10},"labelPadding":33,"title":"FEWZ/Data","titleFontSize":17,"titleAnchor":"end","titleAngle":-90,"titleAlign":"right","titleBaseline":"alphabetic","titleX":-59,"titleY":-26}},
    "y2":{"field":"fbh"}}},
  {"data":{"name":"sys"},"mark":{"type":"area","interpolate":"step-after"},
   "encoding":{
    "x":{"field":"x","type":"quantitative","scale":{"type":"log","domain":[25,300],"nice":false},"axis":{"orient":"top","values":[30,40,50,60,70,80,90,100,200,300],"labels":false,"title":null,"tickSize":{"condition":{"test":"datum.value==100","value":-12},"value":-8}}},
    "y":{"field":"lo","type":"quantitative","scale":{"domain":[0.811,1.189],"nice":false,"zero":false},"axis":{"orient":"right","values":[0.85,0.9,0.95,1,1.05,1.1,1.15],"labels":false,"title":null,"tickSize":{"condition":{"test":"abs(datum.value*10-round(datum.value*10))<0.01","value":-18},"value":-9}}},
    "y2":{"field":"hi"}}},
  {"data":{"values":[{"v":1.1},{"v":0.9}]},"mark":{"type":"rule","strokeDash":[1.5,2],"strokeWidth":1.5,"color":"black"},
   "encoding":{"y":{"field":"v","type":"quantitative","scale":{"domain":[0.811,1.189],"nice":false,"zero":false},"axis":null}}},
  {"data":{"values":[{"v":1}]},"mark":{"type":"rule","strokeWidth":2.2,"color":"black"},
   "encoding":{"y":{"field":"v","type":"quantitative","scale":{"domain":[0.811,1.189],"nice":false,"zero":false},"axis":null}}},
  {"mark":{"type":"rule","strokeWidth":2,"color":"black"},
   "encoding":{"x":{"field":"x","type":"quantitative","scale":{"type":"log","domain":[25,300],"nice":false},"axis":null},
    "y":{"field":"s1","type":"quantitative","scale":{"domain":[0.811,1.189],"nice":false,"zero":false},"axis":null},"y2":{"field":"s2"}}},
  {"mark":{"type":"rule","strokeWidth":2,"color":"#0000ff","clip":true},
   "encoding":{"x":{"field":"lo","type":"quantitative","scale":{"type":"log","domain":[25,300],"nice":false},"axis":null},"x2":{"field":"hi"},
    "y":{"field":"f","type":"quantitative","scale":{"domain":[0.811,1.189],"nice":false,"zero":false},"axis":null}}},
  {"mark":{"type":"rule","strokeWidth":2,"color":"#0000ff","clip":true},
   "encoding":{"x":{"field":"x","type":"quantitative","scale":{"type":"log","domain":[25,300],"nice":false},"axis":null},
    "y":{"field":"fl","type":"quantitative","scale":{"domain":[0.811,1.189],"nice":false,"zero":false},"axis":null},"y2":{"field":"fh"}}},
  {"transform":[{"fold":["fl","fh"],"as":["k","yv"]}],"mark":{"type":"tick","orient":"horizontal","size":7,"thickness":1.5,"color":"#0000ff","opacity":1,"clip":true},
   "encoding":{"x":{"field":"x","type":"quantitative","scale":{"type":"log","domain":[25,300],"nice":false},"axis":null},
    "y":{"field":"yv","type":"quantitative","scale":{"domain":[0.811,1.189],"nice":false,"zero":false},"axis":null}}},
  {"transform":[{"fold":["lo","hi"],"as":["k","xv"]}],"mark":{"type":"tick","orient":"vertical","size":7,"thickness":1.5,"color":"#0000ff","opacity":1,"clip":true},
   "encoding":{"x":{"field":"xv","type":"quantitative","scale":{"type":"log","domain":[25,300],"nice":false},"axis":null},
    "y":{"field":"f","type":"quantitative","scale":{"domain":[0.811,1.189],"nice":false,"zero":false},"axis":null}}},
  {"mark":{"type":"point","shape":"circle","filled":false,"size":70,"strokeWidth":1.8,"color":"#0000ff","fill":"white","fillOpacity":1,"opacity":1,"clip":true},
   "encoding":{"x":{"field":"x","type":"quantitative","scale":{"type":"log","domain":[25,300],"nice":false},"axis":null},
    "y":{"field":"f","type":"quantitative","scale":{"domain":[0.811,1.189],"nice":false,"zero":false},"axis":null}}},
  {"data":{"values":[{}]},"mark":{"type":"text","text":"p","fontSize":28,"align":"left","baseline":"alphabetic"},
   "encoding":{"x":{"datum":178.1,"type":"quantitative","scale":{"type":"log","domain":[25,300],"nice":false},"axis":null},"y":{"datum":0.6603,"type":"quantitative","scale":{"domain":[0.811,1.189],"nice":false,"zero":false},"axis":null}}},
  {"data":{"values":[{}]},"mark":{"type":"text","text":"T","fontSize":15,"align":"left","baseline":"alphabetic"},
   "encoding":{"x":{"datum":192.6,"type":"quantitative","scale":{"type":"log","domain":[25,300],"nice":false},"axis":null},"y":{"datum":0.6296,"type":"quantitative","scale":{"domain":[0.811,1.189],"nice":false,"zero":false},"axis":null}}},
  {"data":{"values":[{}]},"mark":{"type":"text","text":"μ⁺","fontSize":17,"align":"left","baseline":"alphabetic"},
   "encoding":{"x":{"datum":190.8,"type":"quantitative","scale":{"type":"log","domain":[25,300],"nice":false},"axis":null},"y":{"datum":0.7265,"type":"quantitative","scale":{"domain":[0.811,1.189],"nice":false,"zero":false},"axis":null}}},
  {"data":{"values":[{}]},"mark":{"type":"text","text":"[GeV]","fontSize":28,"align":"left","baseline":"alphabetic"},
   "encoding":{"x":{"datum":212.3,"type":"quantitative","scale":{"type":"log","domain":[25,300],"nice":false},"axis":null},"y":{"datum":0.6603,"type":"quantitative","scale":{"domain":[0.811,1.189],"nice":false,"zero":false},"axis":null}}}
 ]
}
]
}
